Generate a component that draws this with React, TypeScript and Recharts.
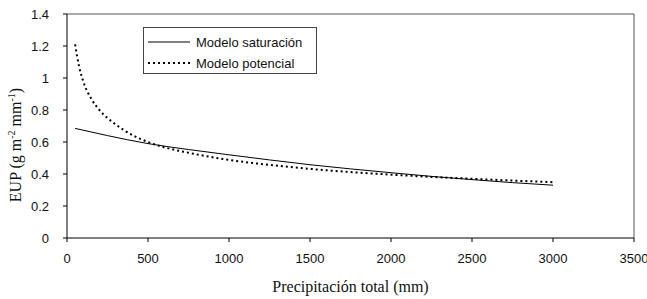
import { LineChart, Line, XAxis, YAxis, ReferenceLine } from 'recharts';

// Modelo saturación
const satPrecip = [50, 250, 500, 750, 1000, 1250, 1500, 1750, 2000, 2250, 2500, 2750, 3000];
const satEup = [0.685, 0.64, 0.59, 0.553, 0.52, 0.488, 0.458, 0.432, 0.408, 0.385, 0.365, 0.346, 0.33];

// Modelo potencial
const potPrecip = [50, 75, 100, 150, 200, 250, 300, 400, 500, 600, 750, 1000, 1250, 1500, 1750, 2000, 2250, 2500, 2750, 3000];
const potEup = [1.21, 1.07, 0.98, 0.87, 0.8, 0.75, 0.71, 0.645, 0.6, 0.567, 0.533, 0.488, 0.457, 0.432, 0.412, 0.396, 0.382, 0.37, 0.359, 0.349];

const seriesNames = ['Modelo saturación', 'Modelo potencial'];
const xTicks = [0, 500, 1000, 1500, 2000, 2500, 3000, 3500];
const yTicks = [0, 0.2, 0.4, 0.6, 0.8, 1, 1.2, 1.4];

const satData = satPrecip.map((p, i) => ({ p, eup: satEup[i] }));
const potData = potPrecip.map((p, i) => ({ p, eup: potEup[i] }));

const sans = '"Liberation Sans", Arial, sans-serif';
const serif = '"Liberation Serif", "Times New Roman", serif';

function LegendBox() {
    return (
        <div style={{ position: 'absolute', left: 143, top: 27, width: 172, height: 45, border: '1px solid #444', fontFamily: sans, fontSize: 13, color: '#111', background: '#fff' }}>
            <div style={{ display: 'flex', alignItems: 'center', height: 22, marginTop: 3 }}>
                <svg width={52} height={10}><line x1={4} y1={5} x2={46} y2={5} stroke="#000" strokeWidth={1} /></svg>
                <span>{seriesNames[0]}</span>
            </div>
            <div style={{ display: 'flex', alignItems: 'center', height: 20 }}>
                <svg width={52} height={10}><line x1={4} y1={5} x2={46} y2={5} stroke="#000" strokeWidth={2} strokeDasharray="2 3" /></svg>
                <span>{seriesNames[1]}</span>
            </div>
        </div>
    );
}

function YLabel() {
    return (
        <text x={21} y={145} transform="rotate(-90 21 145)" textAnchor="middle" fontFamily={serif} fontSize={16} fill="#111">
            EUP (g m<tspan fontSize={10} dy={-6}>-2</tspan><tspan dy={6}> mm</tspan><tspan fontSize={10} dy={-6}>-1</tspan><tspan dy={6}>)</tspan>
        </text>
    );
}

export default function App() {
    return (
        <div style={{ position: 'absolute', left: 0, top: 0, width: 647, height: 299 }}>
            <LineChart width={647} height={299} margin={{ top: 14, right: 13, left: 0, bottom: 0 }}>
                <XAxis
                    type="number"
                    dataKey="p"
                    domain={[0, 3500]}
                    ticks={xTicks}
                    allowDuplicatedCategory={false}
                    height={61}
                    stroke="#000"
                    tickSize={4}
                    tickMargin={12}
                    tick={{ fill: '#111', fontFamily: sans, fontSize: 13 }}
                    label={{ value: 'Precipitación total (mm)', position: 'insideBottom', offset: 7, fill: '#111', fontFamily: serif, fontSize: 16 }}
                />
                <YAxis
                    type="number"
                    domain={[0, 1.4]}
                    ticks={yTicks}
                    width={67}
                    stroke="#000"
                    tickSize={4}
                    tickMargin={14}
                    tick={{ fill: '#111', fontFamily: sans, fontSize: 13 }}
                    label={<YLabel />}
                />
                <ReferenceLine y={1.4} stroke="#555" />
                <ReferenceLine x={3500} stroke="#555" />
                <Line data={satData} dataKey="eup" name={seriesNames[0]} stroke="#000" strokeWidth={1} dot={false} type="monotone" isAnimationActive={false} />
                <Line data={potData} dataKey="eup" name={seriesNames[1]} stroke="#000" strokeWidth={2} strokeDasharray="2 3" dot={false} type="monotone" isAnimationActive={false} />
            </LineChart>
            <LegendBox />
        </div>
    );
}
